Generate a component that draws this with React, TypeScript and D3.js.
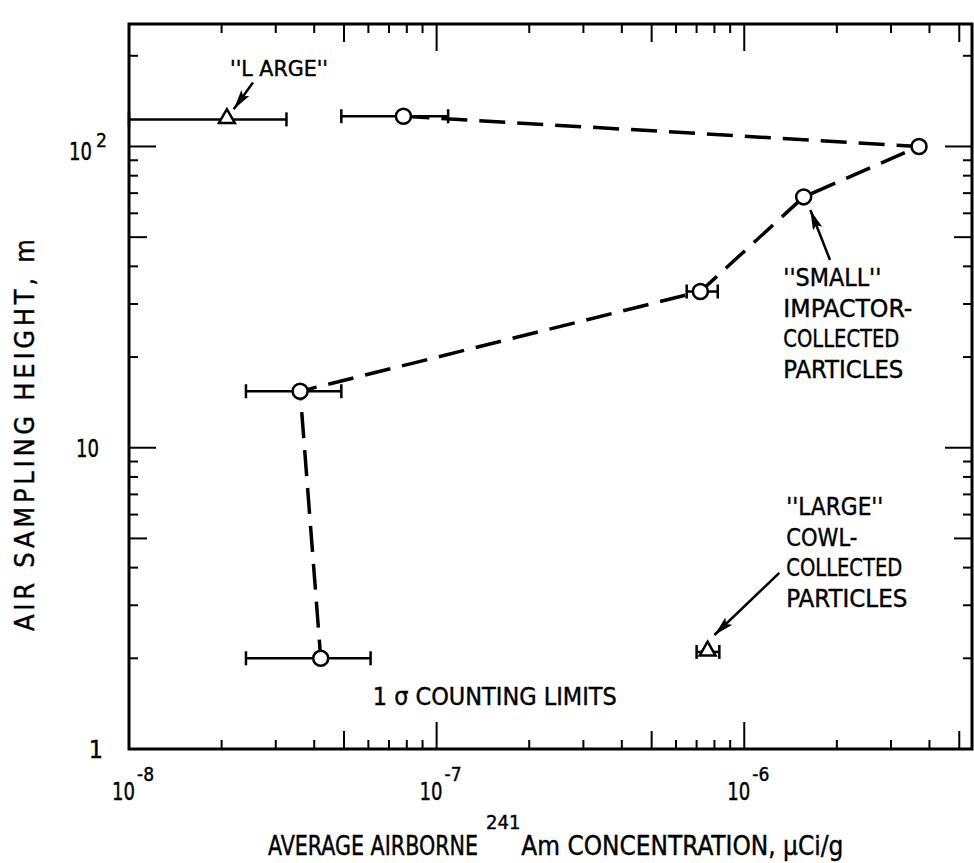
import * as d3 from 'd3'
import React, { useRef, useEffect } from 'react'

// "small" impactor-collected particles (circles, joined by the dashed line)
const smallConc = [7.8e-8, 3.7e-6, 1.56e-6, 7.2e-7, 3.6e-8, 4.2e-8]
const smallHeight = [126, 100, 68, 33, 15.4, 2.0]
const smallLow = [4.9e-8, null, null, 6.5e-7, 2.4e-8, 2.4e-8]
const smallHigh = [1.09e-7, null, null, 8.2e-7, 4.9e-8, 6.1e-8]

// "large" cowl-collected particles (triangles)
const largeConc = [2.08e-8, 7.6e-7]
const largeHeight = [123, 2.1]
const largeLow = [1.0e-8, 7.0e-7]
const largeHigh = [3.25e-8, 8.3e-7]

const xTickLabels = [
  { v: 1e-8, exp: '-8' },
  { v: 1e-7, exp: '-7' },
  { v: 1e-6, exp: '-6' },
]

// annotation anchors, in data units
const labelTopLarge = { x: 2.13e-8, y: 172, lines: ["''L ARGE''"] }
const labelSmall = { x: 1.34e-6, y: 34.4, lines: ["''SMALL''", 'IMPACTOR-', 'COLLECTED', 'PARTICLES'] }
const labelCowl = { x: 1.37e-6, y: 5.98, lines: ["''LARGE''", 'COWL-', 'COLLECTED', 'PARTICLES'] }
const labelLimits = { x: 6.2e-8, y: 1.4, lines: ['1 σ COUNTING LIMITS'] }
const arrows = [
  { x1: 2.53e-8, y1: 163, x2: 2.19e-8, y2: 133 },
  { x1: 1.9e-6, y1: 42, x2: 1.64e-6, y2: 61.5 },
  { x1: 1.3e-6, y1: 3.84, x2: 8.0e-7, y2: 2.39 },
]

const FONT = "'DejaVu Sans Condensed', 'Liberation Sans Narrow', sans-serif"

// measured widths of the lettering in the original, px
const smallWidths = [98, 129, 116, 120]
const cowlWidths = [97, 71, 116, 121]

const App = () => {
  const ref = useRef(null)

  useEffect(() => {
    draw()
  }, [])

  const draw = () => {
    const totalWidth = 974
    const totalHeight = 863
    const left = 129
    const right = 972
    const top = 24
    const bottom = 749

    const svg = d3.select(ref.current)
    svg.selectAll('*').remove()
    svg.attr('width', totalWidth).attr('height', totalHeight)

    const x = d3.scaleLog().domain([1e-8, 5.5e-6]).range([left, right])
    const y = d3.scaleLog().domain([1, 255]).range([bottom, top])

    const defs = svg.append('defs')
    defs
      .append('marker')
      .attr('id', 'head')
      .attr('viewBox', '0 0 20 10')
      .attr('refX', 20)
      .attr('refY', 5)
      .attr('markerWidth', 20)
      .attr('markerHeight', 10)
      .attr('markerUnits', 'userSpaceOnUse')
      .attr('orient', 'auto')
      .append('path')
      .attr('d', 'M0,0 L20,5 L0,10 L4,5 Z')
      .attr('fill', '#000')

    // frame
    svg
      .append('rect')
      .attr('x', left)
      .attr('y', top)
      .attr('width', right - left)
      .attr('height', bottom - top)
      .attr('fill', 'none')
      .attr('stroke', '#000')
      .attr('stroke-width', 3)

    const tickLen = (v: number) => {
      const m = Math.round(v / Math.pow(10, Math.floor(Math.log10(v) + 1e-9)))
      return m === 1 ? 27 : m === 5 ? 18 : 9
    }

    // ticks on all four sides, pointing inward
    const g = svg.append('g').attr('stroke', '#000').attr('stroke-width', 2)
    x.ticks().forEach((v) => {
      const px = x(v)
      if (px <= left + 1 || px >= right - 1) return
      g.append('line').attr('x1', px).attr('x2', px).attr('y1', bottom).attr('y2', bottom - tickLen(v))
      g.append('line').attr('x1', px).attr('x2', px).attr('y1', top).attr('y2', top + tickLen(v))
    })
    y.ticks().forEach((v) => {
      const py = y(v)
      if (py >= bottom - 1 || py <= top + 1) return
      g.append('line').attr('x1', left).attr('x2', left + tickLen(v)).attr('y1', py).attr('y2', py)
      g.append('line').attr('x1', right).attr('x2', right - tickLen(v)).attr('y1', py).attr('y2', py)
    })

    const txt = svg
      .append('g')
      .attr('font-family', FONT)
      .attr('fill', '#000')
      .attr('stroke', '#000')
      .attr('stroke-width', 0.4)

    // x tick labels
    xTickLabels.forEach((t) => {
      txt
        .append('text')
        .attr('x', x(t.v) + 6)
        .attr('y', 800)
        .attr('text-anchor', 'end')
        .attr('font-size', 25)
        .attr('textLength', 23)
        .attr('lengthAdjust', 'spacingAndGlyphs')
        .text('10')
      txt.append('text').attr('x', x(t.v) + 8).attr('y', 781).attr('font-size', 19).text(t.exp)
    })

    // y tick labels
    txt.append('text').attr('x', 103).attr('y', y(1) + 9).attr('text-anchor', 'end').attr('font-size', 25).text('1')
    txt
      .append('text')
      .attr('x', 99)
      .attr('y', y(10) + 9)
      .attr('text-anchor', 'end')
      .attr('font-size', 25)
      .attr('textLength', 23)
      .attr('lengthAdjust', 'spacingAndGlyphs')
      .text('10')
    txt
      .append('text')
      .attr('x', 92)
      .attr('y', y(100) + 14)
      .attr('text-anchor', 'end')
      .attr('font-size', 25)
      .attr('textLength', 23)
      .attr('lengthAdjust', 'spacingAndGlyphs')
      .text('10')
    txt.append('text').attr('x', 96).attr('y', y(100) + 1).attr('font-size', 19).text('2')

    // axis titles
    txt
      .append('text')
      .attr('transform', `translate(34,${435}) rotate(-90)`)
      .attr('text-anchor', 'middle')
      .attr('font-size', 27)
      .attr('textLength', 392)
      .attr('lengthAdjust', 'spacing')
      .text('AIR SAMPLING HEIGHT, m')

    const xa = txt.append('text').attr('x', 268).attr('y', 855).attr('font-size', 26)
    xa.append('tspan').attr('textLength', 210).attr('lengthAdjust', 'spacingAndGlyphs').text('AVERAGE AIRBORNE')
    xa.append('tspan').attr('dx', 8).attr('dy', -26).attr('font-size', 20).text('241')
    xa.append('tspan')
      .attr('dx', 1)
      .attr('dy', 26)
      .attr('textLength', 322)
      .attr('lengthAdjust', 'spacingAndGlyphs')
      .text('Am CONCENTRATION, μCi/g')

    // dashed connecting line through the small-particle points
    const pts = smallConc.map((c, i) => [x(c), y(smallHeight[i])] as [number, number])
    svg
      .append('path')
      .attr('d', d3.line()(pts))
      .attr('fill', 'none')
      .attr('stroke', '#000')
      .attr('stroke-width', 3.5)
      .attr('stroke-dasharray', '26 12')

    // error bars
    const drawErr = (lo: number | null, hi: number | null, h: number) => {
      if (lo == null || hi == null) return
      const py = y(h)
      const eb = svg.append('g').attr('stroke', '#000').attr('stroke-width', 2.5)
      eb.append('line').attr('x1', x(lo)).attr('x2', x(hi)).attr('y1', py).attr('y2', py)
      eb.append('line').attr('x1', x(lo)).attr('x2', x(lo)).attr('y1', py - 7).attr('y2', py + 7)
      eb.append('line').attr('x1', x(hi)).attr('x2', x(hi)).attr('y1', py - 7).attr('y2', py + 7)
    }
    smallConc.forEach((c, i) => drawErr(smallLow[i], smallHigh[i], smallHeight[i]))
    largeConc.forEach((c, i) => drawErr(largeLow[i], largeHigh[i], largeHeight[i]))

    // circles
    svg
      .selectAll('circle.small')
      .data(smallConc)
      .enter()
      .append('circle')
      .attr('class', 'small')
      .attr('cx', (d) => x(d))
      .attr('cy', (d, i) => y(smallHeight[i]))
      .attr('r', 7.5)
      .attr('fill', '#fff')
      .attr('stroke', '#000')
      .attr('stroke-width', 2.5)

    // triangles
    const tri = d3.symbol().type(d3.symbolTriangle).size(110)
    svg
      .selectAll('path.large')
      .data(largeConc)
      .enter()
      .append('path')
      .attr('class', 'large')
      .attr('d', tri)
      .attr('transform', (d, i) => `translate(${x(d)},${y(largeHeight[i]) - 1})`)
      .attr('fill', '#fff')
      .attr('stroke', '#000')
      .attr('stroke-width', 2.5)

    // annotations
    const block = (lab: { x: number; y: number; lines: string[] }, size: number, widths: number[]) => {
      const t = txt.append('text').attr('x', x(lab.x)).attr('y', y(lab.y)).attr('font-size', size)
      lab.lines.forEach((s, i) => {
        t.append('tspan')
          .attr('x', x(lab.x))
          .attr('dy', i === 0 ? 0 : 30.5)
          .attr('textLength', widths[i])
          .attr('lengthAdjust', 'spacingAndGlyphs')
          .text(s)
      })
    }
    block(labelTopLarge, 21, [98])
    block(labelSmall, 25, smallWidths)
    block(labelCowl, 25, cowlWidths)
    block(labelLimits, 25, [244])

    arrows.forEach((a) => {
      svg
        .append('line')
        .attr('x1', x(a.x1))
        .attr('y1', y(a.y1))
        .attr('x2', x(a.x2))
        .attr('y2', y(a.y2))
        .attr('stroke', '#000')
        .attr('stroke-width', 2.5)
        .attr('marker-end', 'url(#head)')
    })
  }

  return (
    <div style={{ position: 'absolute', left: 0, top: 0 }}>
      <svg ref={ref} style={{ display: 'block', background: '#fff' }} />
    </div>
  )
}

export default App
